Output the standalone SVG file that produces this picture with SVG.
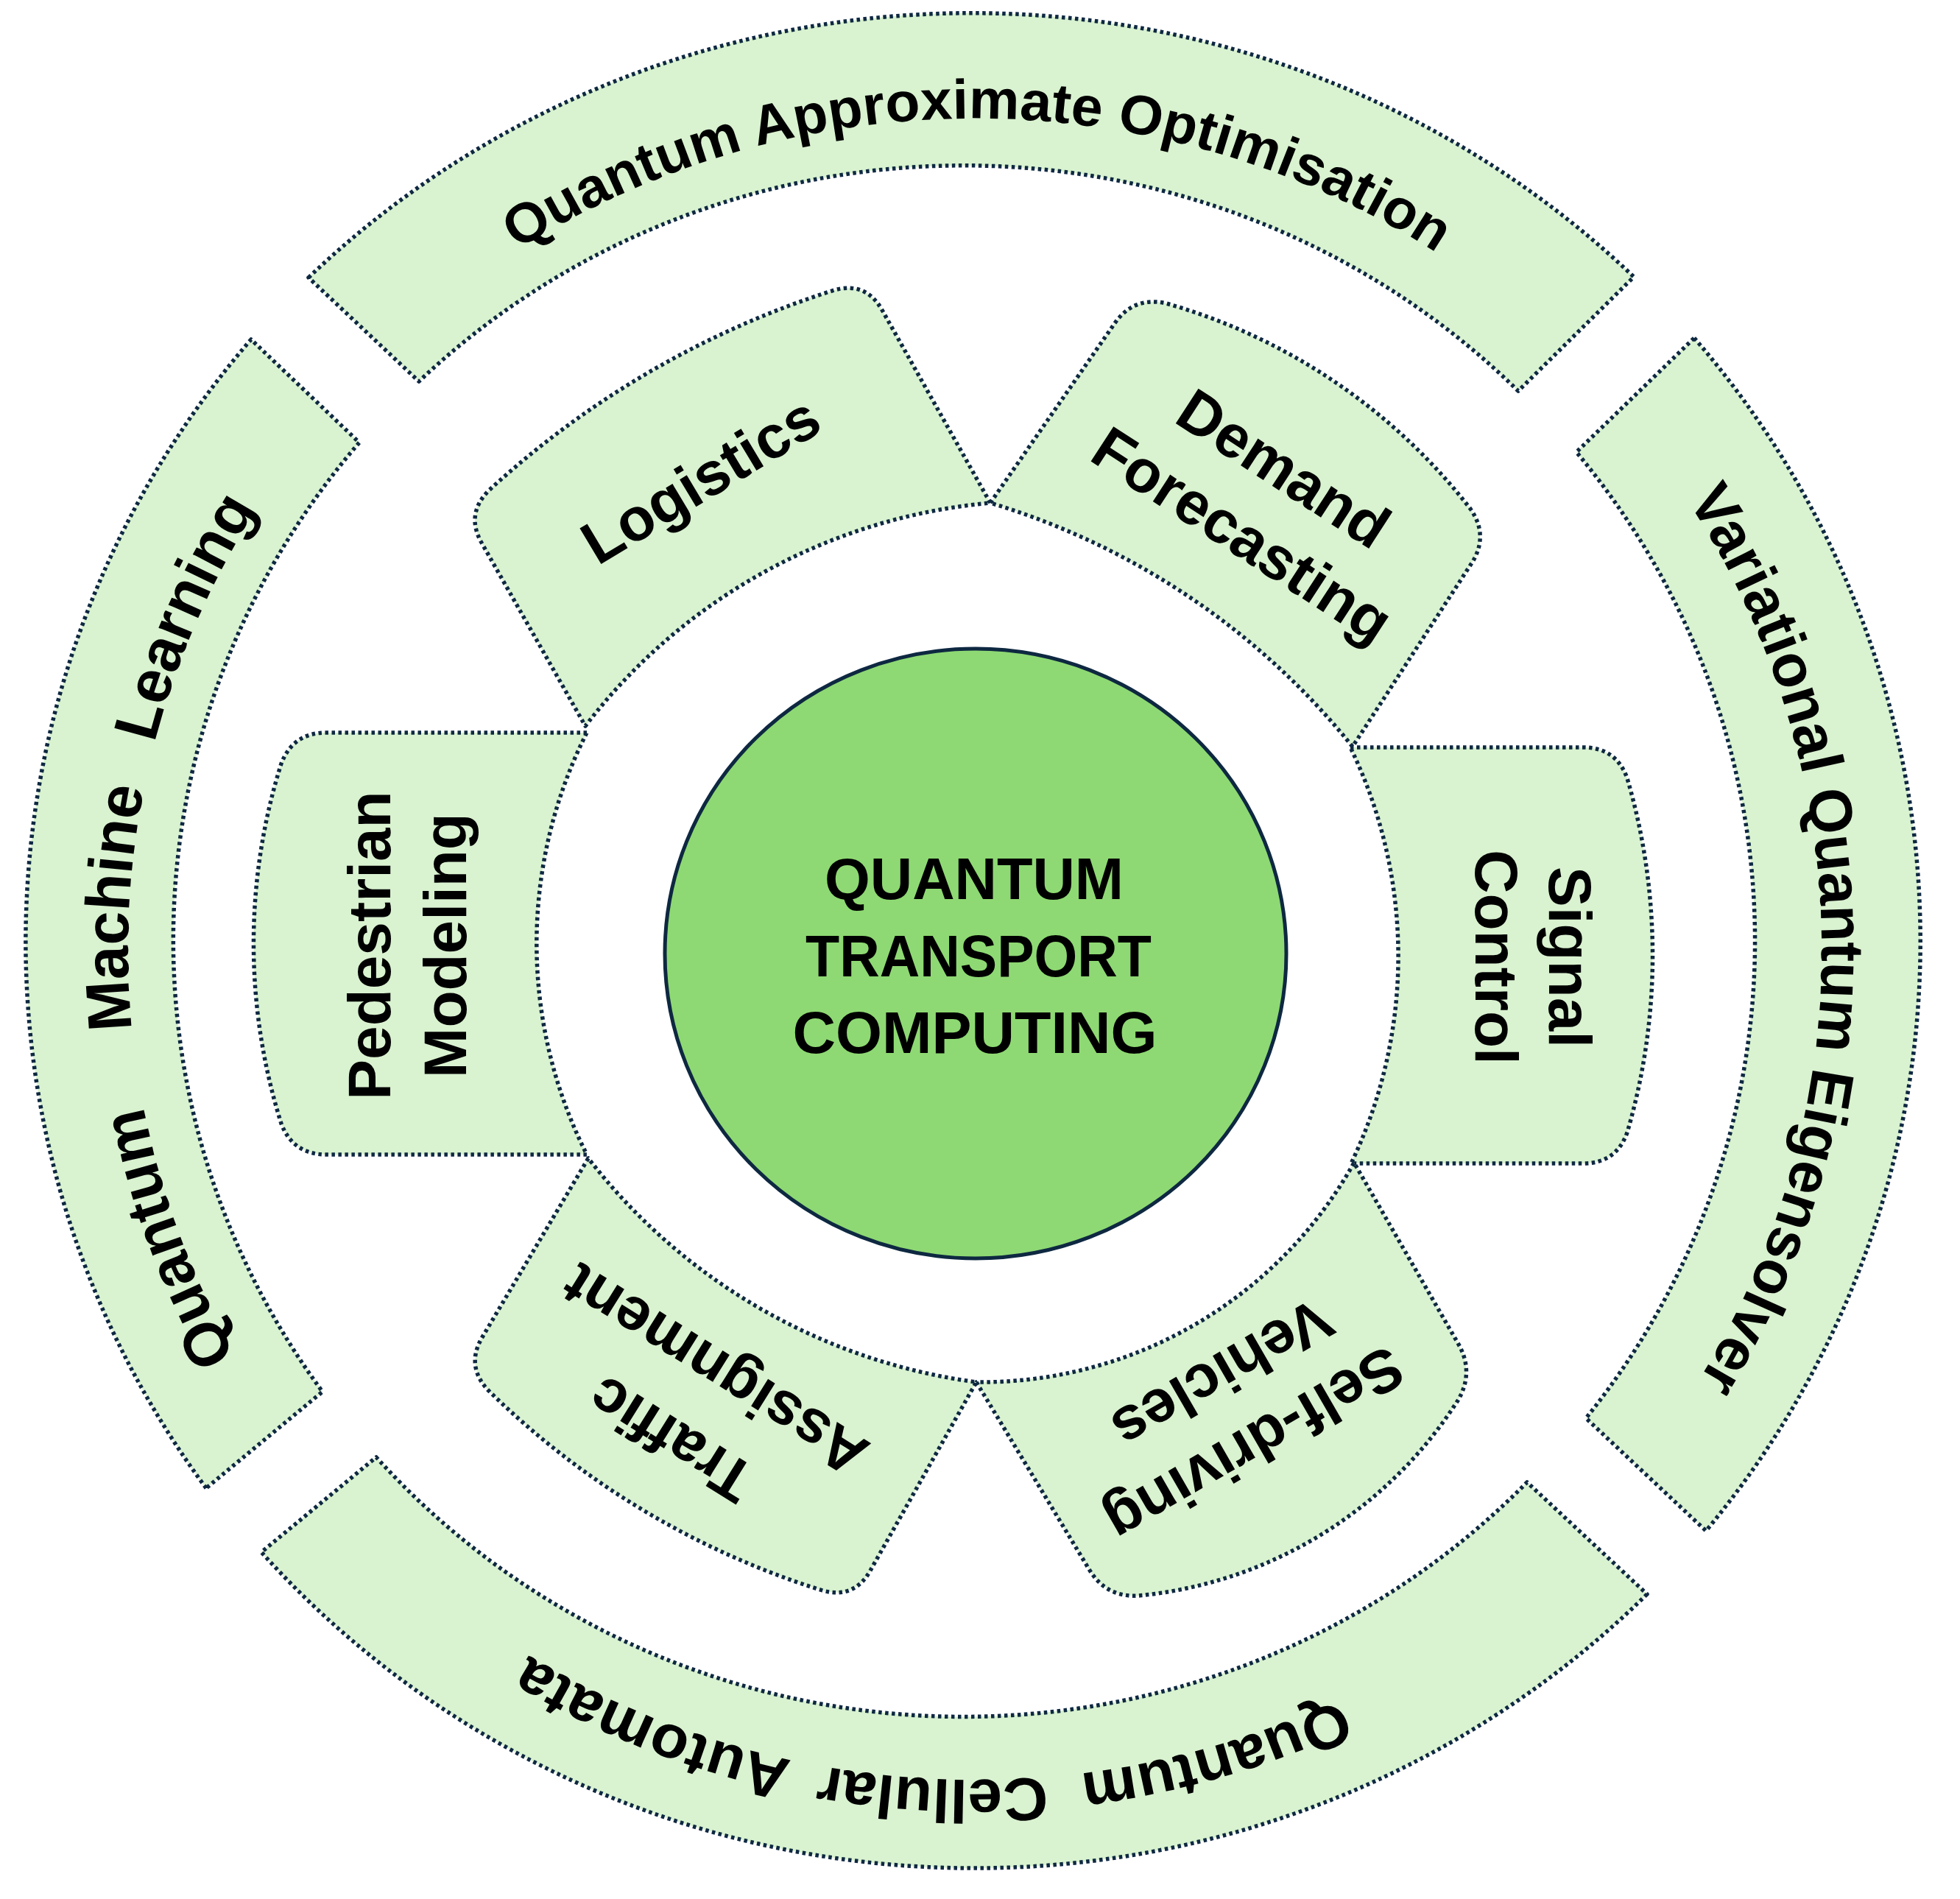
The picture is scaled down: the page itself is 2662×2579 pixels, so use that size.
<svg xmlns="http://www.w3.org/2000/svg" width="2662" height="2579" viewBox="0 0 2662 2579">
<style>
.seg{fill:#d9f2d0;stroke:#0e2841;stroke-width:5.5;stroke-dasharray:4.5 4.5;stroke-linejoin:round}
.t{font-family:"Liberation Sans",Arial,sans-serif;font-weight:bold;fill:#000}
.mid{font-size:82px}
.ring{font-size:84px}
.ring-top{font-size:77px}
.ring-right{font-size:82px}
.ctr{font-size:79px}
</style>
<defs>
<path id="circ" d="M -813.2,-813.2 A 1150 1150 0 1 1 813.2,813.2 A 1150 1150 0 1 1 -813.2,-813.2"/>
</defs>
<rect width="2662" height="2579" fill="#ffffff"/>

<g id="ring-top">
<path class="seg" d="M 419,377 A 1290 1265 0 0 1 2219,376 L 2062,531 A 1065 1045 0 0 0 569,518 Z"/>
</g>
<g id="ring-right">
<path class="seg" d="M 2301,459 A 1290 1265 0 0 1 2317,2079 L 2154,1926 A 1065 1045 0 0 0 2141,614 Z"/>
</g>
<g id="ring-bottom">
<path class="seg" d="M 2237,2165 A 1290 1265 0 0 1 355,2108 L 511,1979 A 1065 1045 0 0 0 2074,2013 Z"/>
</g>
<g id="ring-left">
<path class="seg" d="M 280,2021 A 1290 1265 0 0 1 341,461 L 488,601 A 1065 1045 0 0 0 438,1890 Z"/>
</g>

<g id="ring-text" transform="translate(1324,1289) scale(1,0.981)">
<text class="t ring-top" text-anchor="middle"><textPath href="#circ" startOffset="12.55%">Quantum Approximate Optimisation</textPath></text>
<text class="t ring-right" text-anchor="middle"><textPath href="#circ" startOffset="37.3%">Variational Quantum Eigensolver</textPath></text>
<text class="t ring" text-anchor="middle"><textPath href="#circ" startOffset="57.97%">Quantum</textPath></text>
<text class="t ring" text-anchor="middle"><textPath href="#circ" startOffset="63.28%">Cellular</textPath></text>
<text class="t ring" text-anchor="middle"><textPath href="#circ" startOffset="68.64%">Automata</textPath></text>
<text class="t ring" text-anchor="middle"><textPath href="#circ" startOffset="81.92%">Quantum</textPath></text>
<text class="t ring" text-anchor="middle"><textPath href="#circ" startOffset="88.28%">Machine</textPath></text>
<text class="t ring" text-anchor="middle"><textPath href="#circ" startOffset="93.94%">Learning</textPath></text>
</g>

<g id="logistics">
<path class="seg" d="M 1345,683 L 1198,421 Q 1176,382 1133,394 A 1250 1250 0 0 0 664,666 Q 632,698 654,737 L 795,986 A 780 780 0 0 1 1345,683 Z"/>
<text class="t mid" text-anchor="middle" transform="translate(966,676) rotate(-31)">Logistics</text>
</g>
<g id="demand-forecasting">
<path class="seg" d="M 1345,683 L 1514,439 Q 1540,402 1584,412 A 800 800 0 0 1 1997,691 Q 2023,728 1998,766 L 1837,1014 A 1000 1000 0 0 0 1345,683 Z"/>
<text class="t mid" text-anchor="middle" transform="translate(1728,660) rotate(33)">Demand</text>
<text class="t mid" text-anchor="middle" transform="translate(1672,750) rotate(33)">Forecasting</text>
</g>
<g id="signal-control">
<path class="seg" d="M 1834,1015 L 2150,1015 Q 2195,1015 2210,1057 A 855 855 0 0 1 2210,1538 Q 2195,1580 2150,1580 L 1835,1580 A 650 650 0 0 0 1834,1015 Z"/>
<text class="t mid" text-anchor="middle" transform="translate(2104,1300) rotate(90)">Signal</text>
<text class="t mid" text-anchor="middle" transform="translate(2004,1300) rotate(90)">Control</text>
</g>
<g id="self-driving">
<path class="seg" d="M 1326,1877 L 1479,2131 Q 1502,2170 1547,2167 A 580 580 0 0 0 1980,1902 Q 2003,1863 1980,1824 L 1839,1579 A 580 580 0 0 1 1326,1877 Z"/>
<text class="t mid" text-anchor="middle" transform="translate(1690,1938) rotate(150)">Self-driving</text>
<text class="t mid" text-anchor="middle" transform="translate(1646,1842) rotate(150)">Vehicles</text>
</g>
<g id="traffic-assignment">
<path class="seg" d="M 799,1573 L 655,1816 Q 632,1855 663,1888 A 1125 1125 0 0 0 1117,2160 Q 1160,2172 1182,2133 L 1326,1877 A 800 800 0 0 1 799,1573 Z"/>
<text class="t mid" text-anchor="middle" transform="translate(926,1931) rotate(212)">Traffic</text>
<text class="t mid" text-anchor="middle" transform="translate(986,1837) rotate(212)">Assignment</text>
</g>
<g id="pedestrian-modeling">
<path class="seg" d="M 797,995 L 443,995 Q 398,995 382,1037 A 815 815 0 0 0 382,1526 Q 398,1568 443,1568 L 797,1568 A 636 636 0 0 1 797,995 Z"/>
<text class="t mid" text-anchor="middle" transform="translate(530,1284) rotate(-90)">Pedestrian</text>
<text class="t mid" text-anchor="middle" transform="translate(633,1284) rotate(-90)">Modeling</text>
</g>

<g id="center">
<ellipse cx="1325" cy="1295" rx="422" ry="414" fill="#8ed973" stroke="#0e2841" stroke-width="5"/>
<text class="t ctr" text-anchor="middle" x="1323" y="1221" textLength="406" lengthAdjust="spacingAndGlyphs">QUANTUM</text>
<text class="t ctr" text-anchor="middle" x="1329" y="1326" textLength="470" lengthAdjust="spacingAndGlyphs">TRANSPORT</text>
<text class="t ctr" text-anchor="middle" x="1324" y="1430" textLength="495" lengthAdjust="spacingAndGlyphs">COMPUTING</text>
</g>
<g id="connectors"></g>
</svg>
